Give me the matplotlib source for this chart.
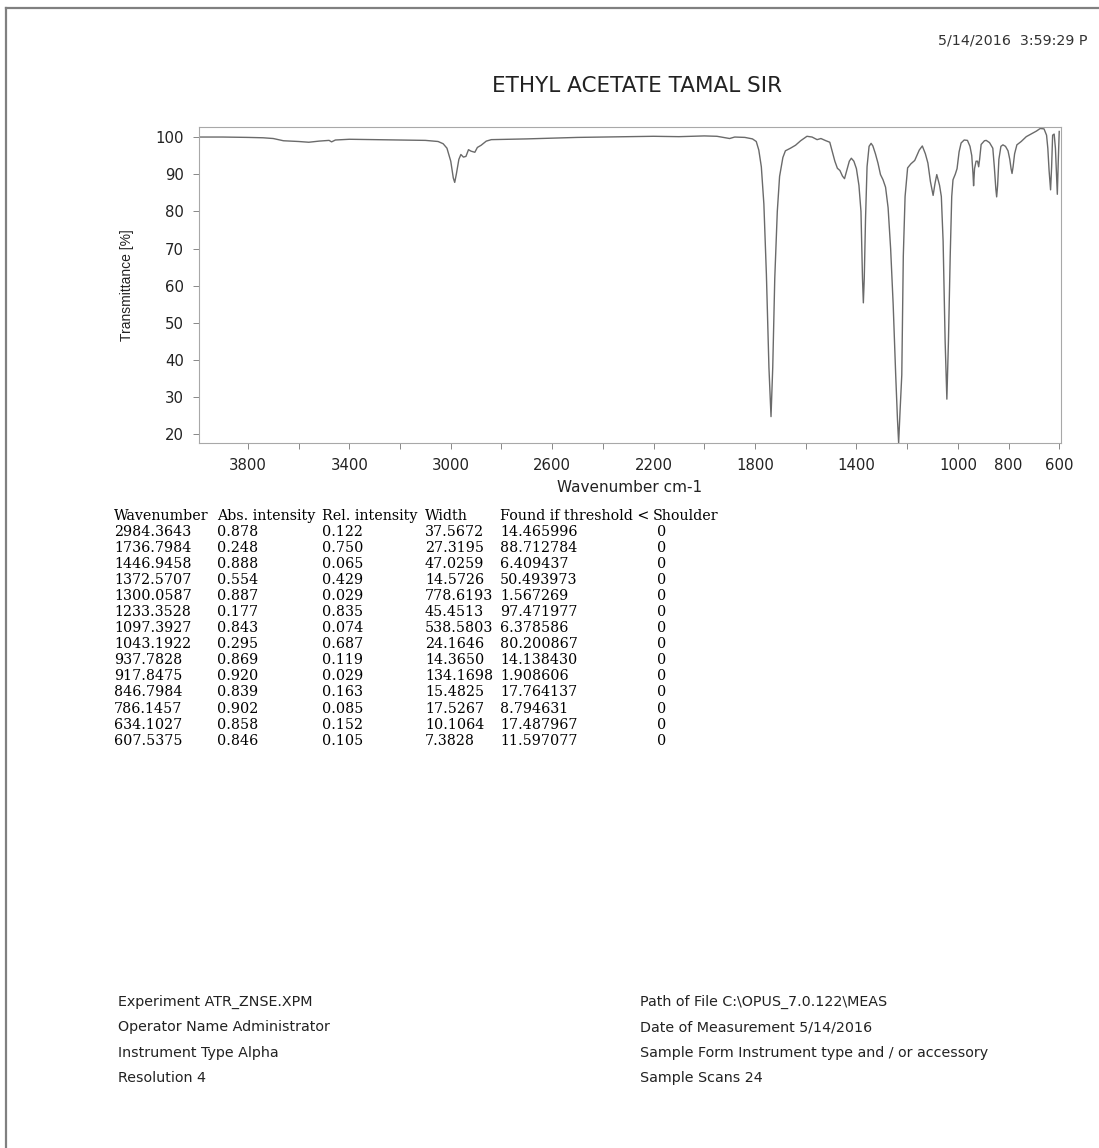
import numpy as np
import matplotlib
matplotlib.use("Agg")
import matplotlib.pyplot as plt
from matplotlib.lines import Line2D

# spectrum (wavenumber cm-1, transmittance %)
wavenumber = [
    3993, 3900, 3800, 3740, 3700, 3660, 3600, 3560, 3520, 3480, 3470, 3455,
    3400, 3300, 3200, 3100, 3050, 3030, 3015, 3000, 2990, 2984.4, 2978, 2968,
    2960, 2950, 2940, 2930, 2920, 2905, 2895, 2880, 2860, 2840, 2700, 2600,
    2500, 2400, 2300, 2200, 2100, 2000, 1950, 1900, 1880, 1840, 1810, 1795,
    1785, 1775, 1765, 1755, 1745, 1736.8, 1730, 1722, 1712, 1703, 1690, 1680,
    1660, 1640, 1620, 1595, 1575, 1555, 1540, 1520, 1505, 1495, 1485, 1475,
    1465, 1455, 1446.9, 1438, 1428, 1420, 1410, 1400, 1390, 1382, 1376,
    1372.6, 1369, 1364, 1358, 1350, 1342, 1335, 1325, 1315, 1305, 1295, 1285,
    1275, 1265, 1255, 1245, 1238, 1233.4, 1228, 1221, 1215, 1208, 1198, 1185,
    1170, 1152, 1140, 1128, 1118, 1108, 1097.4, 1090, 1083, 1072, 1065, 1058,
    1050, 1043.2, 1037, 1030, 1024, 1019, 1010, 1003, 995, 987, 975, 962, 952,
    945, 940, 937.8, 934, 928, 922, 917.8, 914, 908, 895, 888, 875, 862, 856,
    850, 846.8, 843, 838, 830, 822, 812, 802, 795, 790, 786.1, 782, 776, 767,
    750, 730, 709, 690, 675, 660, 650, 645, 640, 634.1, 630, 626, 620, 615,
    611, 607.5, 604, 600,
]
transmittance = [
    100.0, 100.0, 99.9, 99.8, 99.6, 99.0, 98.8, 98.6, 98.9, 99.1, 98.7, 99.2,
    99.4, 99.3, 99.2, 99.1, 98.8, 98.2, 97.0, 93.5, 89.0, 87.8, 90.0, 94.0,
    95.3, 94.6, 94.8, 96.6, 96.2, 95.9, 97.2, 97.8, 98.9, 99.3, 99.5, 99.7,
    99.9, 100.0, 100.1, 100.2, 100.1, 100.3, 100.2, 99.6, 100.0, 99.9, 99.5, 98.8,
    96.5, 92.0, 82.0, 63.0, 38.0, 24.8, 38.0, 62.0, 80.0, 89.4, 94.5, 96.3,
    97.0, 97.8, 99.0, 100.2, 100.0, 99.3, 99.6, 99.0, 98.6, 96.0, 93.5, 91.6,
    91.0, 89.5, 88.8, 91.0, 93.5, 94.3, 93.5, 91.5, 87.0, 80.0, 62.0,
    55.4, 62.0, 78.0, 92.0, 97.5, 98.3, 97.6, 95.5, 93.0, 89.9, 88.5, 86.5,
    81.0, 70.0, 55.0, 36.0, 24.0, 17.7, 26.0, 36.0, 68.0, 84.0, 91.7, 92.8,
    93.7, 96.5, 97.6, 95.5, 93.0, 88.0, 84.3, 87.5, 89.9, 87.0, 84.0, 72.0,
    45.0, 29.5, 45.0, 68.0, 84.0, 88.5, 90.0, 91.5, 96.0, 98.4, 99.2, 99.1, 97.5,
    95.0, 90.0, 86.9, 91.5, 93.5, 93.5, 92.0, 94.0, 98.0, 99.0, 99.1, 98.5, 97.0, 92.0,
    86.0, 83.9, 87.0, 94.0, 97.5, 97.9, 97.5, 96.3, 94.0, 91.5, 90.2, 92.0, 95.5, 97.9,
    98.8, 100.1, 100.9, 101.6, 102.3, 102.2, 100.5, 97.0, 91.0, 85.8, 92.0, 100.5, 100.8, 97.0,
    90.0, 84.6, 93.0, 101.5,
]

xtick_pos = [3800, 3600, 3400, 3200, 3000, 2800, 2600, 2400, 2200, 2000,
             1800, 1600, 1400, 1200, 1000, 800, 600]
xtick_lab = ["3800", "", "3400", "", "3000", "", "2600", "", "2200", "",
             "1800", "", "1400", "", "1000", "800", "600"]
ytick_pos = [20, 30, 40, 50, 60, 70, 80, 90, 100]

# peak table
col_headers = ["Wavenumber", "Abs. intensity", "Rel. intensity", "Width",
               "Found if threshold <", "Shoulder"]
peak_wn = ["2984.3643", "1736.7984", "1446.9458", "1372.5707", "1300.0587",
           "1233.3528", "1097.3927", "1043.1922", "937.7828", "917.8475",
           "846.7984", "786.1457", "634.1027", "607.5375"]
abs_int = ["0.878", "0.248", "0.888", "0.554", "0.887", "0.177", "0.843",
           "0.295", "0.869", "0.920", "0.839", "0.902", "0.858", "0.846"]
rel_int = ["0.122", "0.750", "0.065", "0.429", "0.029", "0.835", "0.074",
           "0.687", "0.119", "0.029", "0.163", "0.085", "0.152", "0.105"]
widths = ["37.5672", "27.3195", "47.0259", "14.5726", "778.6193", "45.4513",
          "538.5803", "24.1646", "14.3650", "134.1698", "15.4825", "17.5267",
          "10.1064", "7.3828"]
thresholds = ["14.465996", "88.712784", "6.409437", "50.493973", "1.567269",
              "97.471977", "6.378586", "80.200867", "14.138430", "1.908606",
              "17.764137", "8.794631", "17.487967", "11.597077"]
shoulder = ["0"] * 14

footer_left = ["Experiment ATR_ZNSE.XPM", "Operator Name Administrator",
               "Instrument Type Alpha", "Resolution 4"]
footer_right = ["Path of File C:\\OPUS_7.0.122\\MEAS",
                "Date of Measurement 5/14/2016",
                "Sample Form Instrument type and / or accessory",
                "Sample Scans 24"]

W, H = 1099, 1148


def fx(px):
    return px / W


def fy(py):
    return 1 - py / H


fig = plt.figure(figsize=(W / 100, H / 100), dpi=100)
fig.patch.set_facecolor("white")

# page border (left and top only, the scan is cropped on the other sides)
fig.add_artist(Line2D([fx(6), fx(6)], [0, fy(8)], transform=fig.transFigure,
                      color="#808080", lw=1.6))
fig.add_artist(Line2D([fx(6), 1], [fy(8), fy(8)], transform=fig.transFigure,
                      color="#808080", lw=1.6))

ax = fig.add_axes([fx(199), fy(443), fx(1061) - fx(199), fy(127) - fy(443)])
ax.plot(wavenumber, transmittance, color="#6a6a6a", lw=1.0)
ax.set_xlim(3993, 593)
ax.set_ylim(17.7, 102.7)
ax.set_xticks(xtick_pos)
ax.set_xticklabels(xtick_lab)
ax.set_yticks(ytick_pos)
for s in ax.spines.values():
    s.set_color("#a8a8a8")
    s.set_linewidth(0.8)
ax.tick_params(direction="out", length=4.3, width=0.7, color="#888888",
               pad=6.5, labelsize=10.7, labelcolor="#222222")
ax.set_xlabel("Wavenumber cm-1", fontsize=11, color="#222222")
ax.xaxis.set_label_coords(0.5, -0.117)
ax.set_ylabel("Transmittance [%]", fontsize=10, color="#222222",
              family="Liberation Sans")
ax.yaxis.set_label_coords(-0.0754, 0.5)

fig.text(fx(637), fy(86), "ETHYL ACETATE TAMAL SIR", ha="center", va="center",
         fontsize=15.5, color="#222222")
fig.text(fx(938), fy(40), "5/14/2016  3:59:29 P", ha="left", va="center",
         fontsize=10.3, color="#333333")

# table
col_x = [114, 217, 322, 425, 500, 653]
serif = dict(family="DejaVu Serif", fontsize=10.3, color="#000000",
             va="center", ha="left")
for cx, h in zip(col_x, col_headers):
    fig.text(fx(cx), fy(516), h, **serif)
columns = [peak_wn, abs_int, rel_int, widths, thresholds]
for i in range(len(peak_wn)):
    yy = fy(532 + 16.05 * i)
    for cx, col in zip(col_x[:5], columns):
        fig.text(fx(cx), yy, col[i], **serif)
    fig.text(fx(657), yy, shoulder[i], **serif)

# footer
for i, (l, r) in enumerate(zip(footer_left, footer_right)):
    yy = fy(1002 + 25.3 * i)
    fig.text(fx(118), yy, l, ha="left", va="center", fontsize=10.3,
             color="#222222")
    fig.text(fx(640), yy, r, ha="left", va="center", fontsize=10.3,
             color="#222222")

fig.savefig("out.png", dpi=100)
